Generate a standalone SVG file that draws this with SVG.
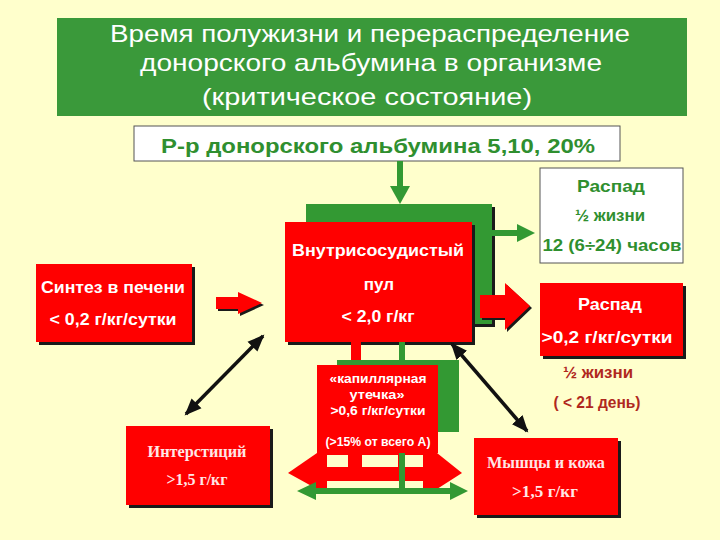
<svg xmlns="http://www.w3.org/2000/svg" width="720" height="540" viewBox="0 0 720 540">
<defs>
<style>
.t{font-family:"Liberation Sans",Arial,sans-serif;font-weight:bold;text-anchor:middle}
.h{font-family:"Liberation Sans",Arial,sans-serif;fill:#fff;text-anchor:middle;font-size:24px}
.w{fill:#fff}
.g{fill:#2f8f2f}
.dr{fill:#b0281e}
.s{font-family:"Liberation Serif","Times New Roman",serif;font-weight:bold;fill:#ffe6e6;text-anchor:middle;font-size:17px}
.red{fill:#ff0000}
.grn{fill:#339933}
.sh{fill:#1a1a1a}
.lt{fill:#ffffcc}
.blk{stroke:#111;stroke-width:3.5;fill:none;marker-start:url(#ah);marker-end:url(#ah)}
</style>
<marker id="ah" markerUnits="userSpaceOnUse" markerWidth="18" markerHeight="16" refX="15" refY="8" orient="auto-start-reverse">
<path d="M0,1 L17,8 L0,15 z" fill="#111"/>
</marker>
</defs>
<rect width="720" height="540" fill="#ffffcc"/>

<g id="title">
<rect x="57" y="18" width="630" height="98" fill="#3a993a"/>
<text class="h" x="370" y="42" textLength="520" lengthAdjust="spacingAndGlyphs">Время полужизни и перераспределение</text>
<text class="h" x="371" y="71" textLength="462" lengthAdjust="spacingAndGlyphs">донорского альбумина в организме</text>
<text class="h" x="367" y="105" textLength="330" lengthAdjust="spacingAndGlyphs">(критическое состояние)</text>
</g>

<g id="solution">
<rect x="134" y="126" width="486" height="35" fill="#fff" stroke="#555" stroke-width="1"/>
<text class="t g" x="378" y="153" font-size="20" textLength="434" lengthAdjust="spacingAndGlyphs">Р-р донорского альбумина 5,10, 20%</text>
</g>

<g id="connectors-top">
<rect x="397" y="161" width="6" height="27" class="grn"/>
<polygon points="390,186 410,186 400,204" class="grn"/>
</g>

<g id="pool">
<rect x="309" y="207" width="186" height="120" class="sh"/>
<rect x="306" y="204" width="186" height="120" class="grn"/>
<rect x="288" y="225" width="187" height="120" class="sh"/>
<rect x="285" y="222" width="187" height="120" class="red"/>
<text class="t w" x="378" y="256" font-size="17" textLength="172" lengthAdjust="spacingAndGlyphs">Внутрисосудистый</text>
<text class="t w" x="379" y="290" font-size="17">пул</text>
<text class="t w" x="378" y="322" font-size="17" textLength="73" lengthAdjust="spacingAndGlyphs">&lt; 2,0 г/кг</text>
</g>

<g id="decay-half">
<rect x="540" y="168" width="143" height="95" fill="#fff" stroke="#555" stroke-width="1"/>
<text class="t g" x="611" y="192" font-size="17" textLength="68" lengthAdjust="spacingAndGlyphs">Распад</text>
<text class="t g" x="610" y="221" font-size="16" textLength="70" lengthAdjust="spacingAndGlyphs">½  жизни</text>
<text class="t g" x="612" y="251" font-size="17" textLength="139" lengthAdjust="spacingAndGlyphs">12 (6÷24) часов</text>
</g>

<g id="decay-red">
<rect x="543" y="286" width="143" height="73" class="sh"/>
<rect x="540" y="283" width="143" height="73" class="red"/>
<text class="t w" x="610" y="310" font-size="17" textLength="64" lengthAdjust="spacingAndGlyphs">Распад</text>
<text class="t w" x="607" y="343" font-size="17" textLength="131" lengthAdjust="spacingAndGlyphs">&gt;0,2 г/кг/сутки</text>
</g>

<g id="half-life">
<text class="t dr" x="598" y="378" font-size="16" textLength="70" lengthAdjust="spacingAndGlyphs">½  жизни</text>
<text class="t dr" x="597" y="408" font-size="16" textLength="87" lengthAdjust="spacingAndGlyphs">( &lt; 21 день)</text>
</g>

<g id="synthesis">
<rect x="39" y="267" width="156" height="78" class="sh"/>
<rect x="36" y="264" width="156" height="78" class="red"/>
<text class="t w" x="113" y="293" font-size="16" textLength="144" lengthAdjust="spacingAndGlyphs">Синтез в печени</text>
<text class="t w" x="113" y="325" font-size="16" textLength="127" lengthAdjust="spacingAndGlyphs">&lt; 0,2 г/кг/сутки</text>
</g>

<g id="interstitium">
<rect x="129" y="429" width="144" height="79" class="sh"/>
<rect x="126" y="426" width="144" height="79" class="red"/>
<text class="s" x="197" y="457" textLength="99" lengthAdjust="spacingAndGlyphs">Интерстиций</text>
<text class="s" x="197" y="485" textLength="61" lengthAdjust="spacingAndGlyphs">&gt;1,5 г/кг</text>
</g>

<g id="muscle-skin">
<rect x="477" y="441" width="144" height="77" class="sh"/>
<rect x="474" y="438" width="144" height="77" class="red"/>
<text class="s" x="546" y="468" textLength="118" lengthAdjust="spacingAndGlyphs">Мышцы и кожа</text>
<text class="s" x="545" y="497" textLength="66">&gt;1,5  г/кг</text>
</g>

<g id="connectors">
<rect x="492" y="230" width="26" height="6" class="grn"/>
<polygon points="517,224 517,242 535,233" class="grn"/>
<polygon points="482,297 507,297 507,285 532,308 507,332 507,320 482,320" class="sh"/>
<polygon points="480,295 505,295 505,283 530,306 505,330 505,318 480,318" class="red"/>
<polygon points="218,299 240,299 240,294 264,305 240,316 240,311 218,311" class="sh"/>
<polygon points="216,297 238,297 238,292 262,303 238,314 238,309 216,309" class="red"/>
<line x1="263" y1="336" x2="186" y2="414" class="blk"/>
<line x1="452" y1="344" x2="527" y2="431" class="blk"/>
<rect x="351" y="342" width="10" height="30" class="red"/>
<rect x="399" y="342" width="6" height="30" class="grn"/>
</g>

<g id="capillary">
<rect x="337" y="360" width="122" height="72" class="grn"/>
<rect x="317" y="365" width="121" height="88" class="red"/>
<text class="t w" x="378" y="383" font-size="13" textLength="97" lengthAdjust="spacingAndGlyphs">«капиллярная</text>
<text class="t w" x="377" y="399" font-size="13" textLength="55" lengthAdjust="spacingAndGlyphs">утечка»</text>
<text class="t w" x="378" y="415" font-size="13" textLength="95" lengthAdjust="spacingAndGlyphs">&gt;0,6 г/кг/сутки</text>
<text class="t w" x="378" y="446" font-size="13" textLength="105" lengthAdjust="spacingAndGlyphs">(&gt;15% от всего А)</text>
</g>

<g id="exchange-arrows">
<polygon points="288,473 317,453 437,453 462,473 437,489 317,489" class="red"/>
<rect x="327" y="455" width="21" height="12" class="lt"/>
<rect x="362" y="455" width="36" height="12" class="lt"/>
<rect x="405" y="455" width="18" height="12" class="lt"/>
<rect x="327" y="481" width="96" height="7" class="lt"/>
<rect x="351" y="453" width="10" height="14" class="red"/>
<rect x="399" y="453" width="6" height="38" class="grn"/>
<polygon points="297,491 316,482 316,488 450,488 450,482 468,491 450,500 450,494 316,494 316,500" class="grn"/>
</g>
</svg>
